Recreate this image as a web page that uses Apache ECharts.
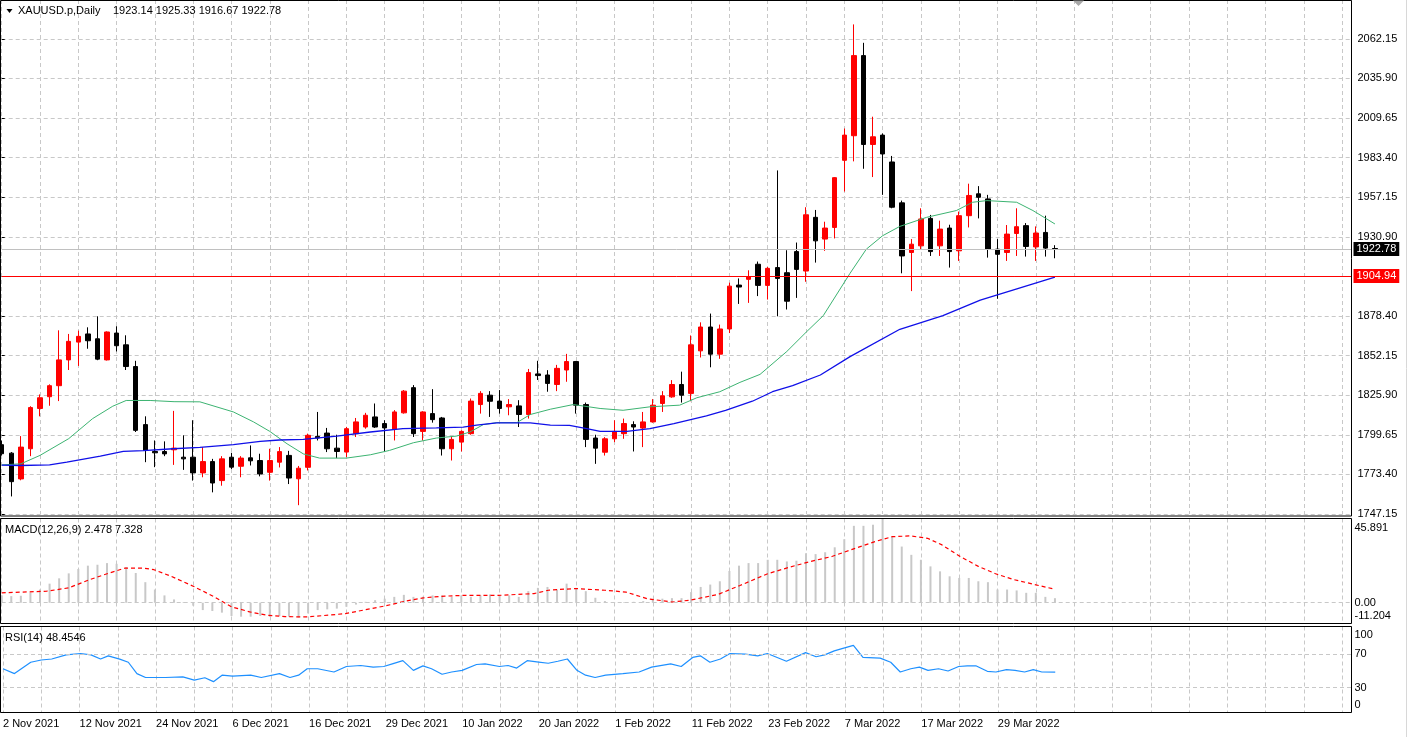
<!DOCTYPE html>
<html><head><meta charset="utf-8">
<script src="https://cdn.jsdelivr.net/npm/echarts@6/dist/echarts.min.js"></script>
<style>html,body{margin:0;padding:0;background:#fff;overflow:hidden}#c{width:1408px;height:737px}</style>
</head><body><div id="c"></div>
<script>
// ---- trading days (categories) ----
const months = [
  ['Nov 2021', [2,3,4,5,8,9,10,11,12,15,16,17,18,19,22,23,24,25,26,29,30]],
  ['Dec 2021', [1,2,3,6,7,8,9,10,13,14,15,16,17,20,21,22,23,27,28,29,30,31]],
  ['Jan 2022', [3,4,5,6,7,10,11,12,13,14,17,18,19,20,21,24,25,26,27,28,31]],
  ['Feb 2022', [1,2,3,4,7,8,9,10,11,14,15,16,17,18,21,22,23,24,25,28]],
  ['Mar 2022', [1,2,3,4,7,8,9,10,11,14,15,16,17,18,21,22,23,24,25,28,29,30,31]],
  ['Apr 2022', [1,4,5,6]]
];
const days = [];
months.forEach(m => m[1].forEach(d => days.push(d + ' ' + m[0])));

// ---- OHLC ----
const opens = [1793.1,1787.5,1770.4,1790.4,1817.1,1824.9,1832.2,1849.3,1861.1,1866.5,
1863.3,1849.3,1867.1,1859.3,1844.9,1806.4,1788.6,1788.6,1789.7,1784.8,
1784.8,1774.4,1781.9,1769.3,1784.8,1778.8,1784.4,1782.6,1774.8,1781.5,
1786.0,1770.5,1778.1,1798.6,1800.8,1790.8,1788.2,1800.4,1804.8,1811.5,
1807.1,1803.3,1814.2,1830.9,1801.9,1813.7,1810.8,1790.4,1794.8,1800.4,
1819.7,1825.9,1822.0,1818.2,1818.8,1813.1,1840.0,1839.3,1833.0,1842.6,
1848.2,1819.7,1797.5,1788.1,1797.0,1800.4,1806.4,1804.1,1808.2,1820.4,
1824.8,1833.0,1827.1,1855.3,1871.1,1853.1,1869.8,1898.9,1902.7,1912.7,
1898.7,1910.5,1907.1,1921.1,1908.2,1943.8,1929.4,1937.1,1981.6,1997.9,
2051.0,1992.1,1998.3,1980.5,1953.4,1920.5,1924.9,1943.1,1924.9,1936.7,
1921.6,1944.9,1959.4,1956.0,1922.7,1920.5,1933.1,1938.3,1924.2,1933.8,1923.14];
const closes = [1787.1,1768.6,1791.5,1817.7,1824.2,1832.2,1849.3,1861.6,1864.9,1862.0,
1849.8,1867.8,1858.7,1844.9,1802.6,1789.3,1787.7,1787.0,1790.8,1783.7,
1774.4,1781.9,1767.7,1783.7,1778.2,1784.2,1782.4,1773.7,1782.6,1788.5,
1771.0,1777.5,1799.3,1797.5,1790.4,1788.6,1803.7,1808.2,1812.6,1804.8,
1804.2,1814.8,1828.6,1800.4,1814.8,1809.7,1790.4,1796.6,1801.9,1822.0,
1827.1,1821.9,1817.1,1819.7,1813.1,1840.9,1838.9,1833.7,1843.7,1848.2,
1819.3,1796.6,1790.8,1797.0,1801.9,1807.1,1804.8,1808.2,1819.3,1825.5,
1833.0,1825.9,1859.3,1871.1,1853.1,1869.8,1898.2,1897.6,1904.2,1898.7,
1910.0,1903.3,1888.2,1909.3,1945.5,1928.2,1936.7,1970.1,1998.3,2051.0,
1992.1,1997.2,1985.8,1950.5,1918.2,1926.0,1942.7,1921.1,1936.0,1921.1,
1944.9,1958.3,1957.1,1922.7,1919.3,1932.7,1937.6,1924.5,1933.4,1923.4,1922.78];
const lows = [1785.9,1758.8,1769.5,1785.5,1811.9,1818.9,1822.0,1842.6,1845.3,1856.7,
1849.1,1848.9,1854.9,1842.6,1801.5,1781.5,1778.2,1785.5,1779.7,1776.4,
1769.3,1771.5,1761.5,1765.9,1777.0,1771.5,1779.3,1772.1,1769.3,1778.0,
1767.0,1753.0,1776.0,1795.9,1788.2,1784.2,1784.8,1798.2,1803.7,1804.2,
1788.2,1795.9,1813.7,1798.2,1795.9,1807.7,1785.9,1782.6,1788.6,1799.7,
1813.7,1811.5,1813.7,1812.6,1804.8,1810.4,1836.0,1828.2,1828.6,1834.8,
1813.7,1791.5,1780.4,1785.9,1794.8,1797.0,1788.6,1791.5,1807.7,1814.8,
1824.2,1821.0,1821.9,1850.9,1844.4,1850.0,1867.1,1886.4,1887.1,1891.6,
1889.3,1878.2,1882.7,1890.4,1901.1,1913.8,1921.6,1929.8,1960.9,1980.9,
1976.0,1970.5,1958.7,1949.8,1906.7,1894.9,1922.7,1918.2,1918.2,1910.5,
1914.9,1937.1,1943.1,1917.1,1889.8,1914.9,1918.2,1917.8,1914.9,1917.8,1916.67];
const highs = [1795.9,1788.2,1798.8,1818.6,1826.4,1833.1,1868.9,1866.5,1868.7,1870.9,
1878.2,1868.2,1871.6,1865.6,1848.7,1811.9,1795.9,1795.3,1815.5,1799.3,
1809.3,1791.5,1783.7,1785.5,1787.7,1785.5,1792.6,1787.1,1790.4,1791.5,
1789.0,1779.0,1800.4,1814.8,1804.2,1799.7,1804.9,1810.8,1814.2,1820.4,
1809.3,1816.0,1829.3,1832.6,1815.3,1829.9,1811.5,1798.8,1802.6,1823.7,
1828.6,1828.6,1829.3,1823.3,1822.6,1843.3,1848.7,1842.5,1846.0,1853.3,
1848.6,1821.0,1799.7,1798.1,1809.3,1810.4,1808.6,1814.8,1823.3,1828.6,
1835.9,1841.5,1865.5,1874.2,1880.0,1872.7,1900.5,1903.3,1908.7,1914.5,
1910.9,1974.9,1922.0,1927.1,1950.5,1948.7,1940.9,1970.5,2002.7,2071.7,
2059.5,2010.5,1999.4,1984.5,1954.9,1929.4,1949.8,1945.4,1941.6,1938.9,
1947.6,1966.1,1964.5,1958.7,1929.4,1938.7,1949.8,1940.0,1937.8,1944.9,1925.33];

// ---- moving averages as [bar, price] ----
const greenMA = [[0,1779.7],[2,1780.4],[4,1786.0],[7,1797.1],[9.5,1810.4],[11.6,1818.6],[13,1822.4],[15.5,1822.4],[18,1821.6],[20.7,1821.5],[24.2,1814.8],[26.3,1808.2],[28,1801.9],[29.8,1793.7],[31.5,1787.0],[33.2,1784.2],[36,1784.2],[38.5,1786.4],[40.5,1789.3],[43,1794.4],[45.4,1797.5],[47.5,1798.8],[48.9,1801.5],[50.3,1806.4],[51.7,1807.7],[53.8,1807.7],[55.2,1813.1],[57.3,1816.6],[59.7,1819.7],[62.5,1817.1],[64.9,1815.9],[67.7,1818.2],[70.8,1819.3],[72.6,1824.2],[75,1828.2],[77.1,1834.4],[79.2,1839.7],[82,1854.9],[84.1,1868.2],[85.8,1878.6],[88.6,1906.7],[90.3,1922.7],[92,1931.6],[93.8,1937.8],[96.6,1943.8],[99.7,1948.3],[101.4,1953.8],[102.9,1954.9],[106,1953.8],[107.7,1948.3],[110,1939.4]];
const blueMA = [[0,1779.5],[2,1779.3],[5,1779.7],[6.8,1781.5],[10.3,1785.5],[12.7,1788.6],[14.8,1789.1],[17.9,1790.4],[20.7,1791.3],[24.2,1793.1],[27,1795.3],[29,1796.2],[31.5,1796.6],[35,1798.8],[38.5,1801.5],[41.9,1803.7],[45.4,1804.2],[48.2,1804.8],[49.6,1806.0],[51.7,1807.5],[55.2,1807.5],[57.3,1806.0],[59.3,1805.9],[61.1,1803.7],[62.5,1801.9],[65.3,1801.9],[67.7,1803.7],[70.2,1807.1],[73.6,1812.2],[75.6,1815.9],[78.4,1821.9],[80.5,1828.2],[82.6,1832.2],[85.5,1839.3],[88.6,1851.5],[93.8,1869.6],[98.3,1878.6],[102.2,1888.9],[105.6,1895.6],[110,1904.2]];

// ---- MACD ----
const macdHist = [4.0,3.6,3.8,5.5,7.2,10.4,13.3,16.0,18.4,20.2,
20.7,21.6,21.2,19.4,16.2,11.2,7.2,4.0,1.8,0.4,
-1.6,-4.0,-4.5,-5.4,-7.2,-7.6,-7.6,-7.2,-7.6,-7.2,
-7.6,-8.1,-5.8,-4.0,-3.6,-3.2,-2.2,-1.0,0.5,1.4,
2.2,3.2,4.3,3.2,3.2,4.0,4.0,3.2,4.0,3.2,
4.0,4.5,4.0,4.0,3.2,6.3,8.1,8.6,7.2,10.4,
8.1,6.3,2.7,0.9,0.2,0.3,0.5,0.9,1.8,2.2,
2.5,2.5,5.8,8.6,9.9,11.7,17.3,20.2,21.6,21.6,
23.4,23.4,22.5,22.9,27.0,26.5,27.5,30.2,34.6,41.9,
41.9,42.5,45.891,36.0,30.6,26.1,23.4,19.8,17.1,14.4,
13.5,13.5,11.7,11.2,7.2,7.2,6.7,5.4,5.4,3.2,2.478];
const macdSignal = [[0,5.4],[4.7,6.3],[7,8.1],[9.2,12.6],[11,15.8],[12.9,18.9],[14.8,18.9],[15.9,18.0],[17.7,14.4],[20,9.0],[22.2,3.2],[24,-2.2],[25.9,-5.0],[27.7,-6.8],[29.6,-7.6],[31.8,-7.7],[34.1,-6.8],[35.9,-5.9],[37.8,-4.0],[40,-1.8],[42.2,0.9],[44.1,2.7],[46.3,3.6],[48.2,4.0],[51.9,4.0],[55.6,5.0],[57.1,6.8],[58.1,7.2],[60,7.7],[63,6.8],[65.2,5.8],[67.4,2.2],[70,0.4],[71.9,1.4],[74.8,4.5],[77.1,9.4],[80,15.8],[82.3,19.4],[84.5,22.5],[86.7,25.2],[88.9,29.2],[91.2,33.3],[93,36.0],[94.9,36.4],[96.7,35.1],[98.2,31.5],[100.1,25.2],[102,19.8],[103.8,15.8],[105.7,12.6],[107.9,9.9],[110,7.328]];

// ---- RSI(14) ----
const rsi = [[0,52.5],[1.2,46.7],[2.9,60.3],[4,63],[5.1,64.2],[6.6,69.2],[8.1,70.8],[9.2,69.2],[10.2,64.2],[11,68],[12.2,64],[13.1,60.3],[14,46.7],[14.9,42],[17,42],[18.8,42.8],[20,38.9],[21.1,41.7],[22,37],[22.9,44.8],[24,43.6],[25.9,44.8],[27,42],[28.9,46.7],[30,42],[30.9,44.8],[31.8,52.5],[32.9,52.5],[34.6,48.6],[35.9,55.2],[37.4,56.4],[38.7,54.5],[39.8,55.2],[40.7,58.4],[41.8,62.2],[42.9,50.6],[43.9,56],[44.8,52.5],[45.9,45.9],[46.9,48.6],[48,50.6],[49.5,57.6],[50.4,58.4],[51.9,55.2],[52.8,56.4],[53.7,53.3],[54.8,62.2],[56,60.5],[57,59.1],[58,61.5],[59,64.2],[60,50.6],[60.9,44.8],[61.9,42],[63,44.8],[64.8,46.7],[66.5,48.6],[67.8,54.5],[69.8,58.4],[70.9,55.2],[72.1,66.1],[72.9,68],[73.9,60.3],[75,64.2],[76,70.8],[77.6,70],[78.9,68],[79.9,70.8],[81.9,61.5],[83.9,71.9],[85,66.9],[85.9,69.2],[86.9,73.9],[87.8,77],[88.9,80.5],[89.9,66.1],[91.7,65.3],[92.8,60.3],[93.8,48.6],[94.9,52.5],[95.8,54.5],[96.7,50.6],[97.8,52.5],[98.8,49.8],[99.9,55.2],[100.8,56],[101.7,56],[102.9,49.4],[103.8,48.6],[104.9,51.4],[105.8,50.6],[106.8,48.6],[107.7,51.4],[108.6,48.6],[110,48.4546]];

// ---- levels & axis ticks ----
const bidPrice = 1922.78;
const hLine = 1904.94;
const priceMin = 1747.15, priceMax = 2087.87, priceStep = 26.25;
const macdTicks = [-11.204, 0, 45.891];
const rsiTicks = [0, 30, 70, 100];

// ---- layout ----
const FONT = '"Liberation Sans", Arial, sans-serif';
const L = 1.7, R = 1408 - 1351.5, BAR = 9.575;
const xMax = (1351.5 - L) / BAR;
const gridCol = '#c8c8c8';
const dash = [4, 3];

const candleData = opens.map((o, i) => [i, o, closes[i], lows[i], highs[i]]);

function xAxisFor(idx, labels) {
  return {
    type: 'value', gridIndex: idx, min: 0, max: xMax, interval: 4,
    axisLine: {show: false}, axisTick: {show: false},
    splitLine: {show: true, lineStyle: {color: gridCol, type: dash, width: 1}},
    axisLabel: labels ? {
      show: true, align: 'left', margin: 5.5, fontSize: 11, color: '#000', fontFamily: FONT,
      showMaxLabel: false, showMinLabel: true,
      formatter: v => { const i = Math.round(v); return (Math.abs(v - i) < 1e-6 && i % 8 === 0 && i < days.length) ? days[i] : ''; }
    } : {show: false}
  };
}

const chart = echarts.init(document.getElementById('c'));
chart.setOption({
  animation: false,
  backgroundColor: '#fff',
  grid: [
    {left: L, right: R, top: 0, height: 514},
    {left: L, right: R, top: 518.5, height: 104.8},
    {left: L, right: R, top: 626.5, height: 86}
  ],
  xAxis: [xAxisFor(0, false), xAxisFor(1, false), xAxisFor(2, true)],
  yAxis: [
    {type: 'value', gridIndex: 0, position: 'right', min: priceMin, max: priceMax, interval: priceStep,
     axisLine: {show: false}, axisTick: {show: true, length: 3, lineStyle: {color: '#000'}},
     splitLine: {show: true, lineStyle: {color: gridCol, type: dash, width: 1}},
     axisLabel: {margin: 6, fontSize: 11, color: '#000', fontFamily: FONT, showMaxLabel: false,
       formatter: v => v.toFixed(2)}},
    {type: 'value', gridIndex: 1, position: 'right', min: macdTicks[0], max: macdTicks[2],
     axisLine: {show: false}, axisTick: {show: false}, splitLine: {show: false},
     axisLabel: {margin: 3, fontSize: 11, color: '#000', fontFamily: FONT, customValues: macdTicks,
       formatter: v => v === macdTicks[2] ? '{t|' + v.toFixed(3) + '}' : (v === macdTicks[0] ? '{b|' + v.toFixed(3) + '}' : v.toFixed(2)),
       rich: {t: {padding: [18, 0, 0, 0], fontSize: 11, color: '#000', fontFamily: FONT},
              b: {padding: [0, 0, 15, 0], fontSize: 11, color: '#000', fontFamily: FONT}}}},
    {type: 'value', gridIndex: 2, position: 'right', min: 0, max: 103.2,
     axisLine: {show: false}, axisTick: {show: false}, splitLine: {show: false},
     axisLabel: {margin: 3, fontSize: 11, color: '#000', fontFamily: FONT, customValues: rsiTicks,
       formatter: v => v === 100 ? '{t|100}' : (v === 0 ? '{b|0}' : String(v)),
       rich: {t: {padding: [12, 0, 0, 0], fontSize: 11, color: '#000', fontFamily: FONT},
              b: {padding: [0, 0, 15, 0], fontSize: 11, color: '#000', fontFamily: FONT}}}}
  ],
  series: [
    {type: 'candlestick', xAxisIndex: 0, yAxisIndex: 0, data: candleData, barWidth: 5,
     itemStyle: {color: '#ff0000', color0: '#000000', borderColor: '#ff0000', borderColor0: '#000000', borderWidth: 1},
     markLine: {silent: true, symbol: ['none', 'none'], animation: false,
       data: [
         {yAxis: bidPrice, lineStyle: {color: '#c0c0c0', type: 'solid', width: 1},
          label: {show: true, position: 'end', distance: 2, formatter: bidPrice.toFixed(2), color: '#fff', backgroundColor: '#000', padding: [2, 3, 1, 3], fontSize: 11, fontFamily: FONT}},
         {yAxis: hLine, lineStyle: {color: '#ff0000', type: 'solid', width: 1},
          label: {show: true, position: 'end', distance: 2, formatter: hLine.toFixed(2), color: '#fff', backgroundColor: '#ff0000', padding: [2, 3, 1, 3], fontSize: 11, fontFamily: FONT}}
       ]}},
    {type: 'line', xAxisIndex: 0, yAxisIndex: 0, data: greenMA, showSymbol: false, symbol: 'none',
     lineStyle: {color: '#3cb371', width: 1}, z: 3},
    {type: 'line', xAxisIndex: 0, yAxisIndex: 0, data: blueMA, showSymbol: false, symbol: 'none',
     lineStyle: {color: '#1010e8', width: 1.3}, z: 3},
    {type: 'bar', xAxisIndex: 1, yAxisIndex: 1, data: macdHist.map((v, i) => [i, v]), barWidth: 2,
     itemStyle: {color: '#c8c8c8'},
     markLine: {silent: true, symbol: ['none', 'none'], label: {show: false},
       lineStyle: {color: gridCol, type: dash, width: 1}, data: [{yAxis: 0}]}},
    {type: 'line', xAxisIndex: 1, yAxisIndex: 1, data: macdSignal, showSymbol: false, symbol: 'none',
     lineStyle: {color: '#ff0000', width: 1.2, type: [4, 3]}},
    {type: 'line', xAxisIndex: 2, yAxisIndex: 2, data: rsi, showSymbol: false, symbol: 'none',
     lineStyle: {color: '#1e90ff', width: 1.2},
     markLine: {silent: true, symbol: ['none', 'none'], label: {show: false},
       lineStyle: {color: gridCol, type: dash, width: 1}, data: [{yAxis: 30}, {yAxis: 70}]}}
  ],
  graphic: [
    {type: 'rect', z: 100, silent: true, shape: {x: 0.5, y: 0.5, width: 1351, height: 515.5}, style: {fill: null, stroke: '#000', lineWidth: 1}},
    {type: 'rect', z: 100, silent: true, shape: {x: 0.5, y: 518.5, width: 1351, height: 105}, style: {fill: null, stroke: '#000', lineWidth: 1}},
    {type: 'rect', z: 100, silent: true, shape: {x: 0.5, y: 626.5, width: 1351, height: 86}, style: {fill: null, stroke: '#000', lineWidth: 1}},
    {type: 'line', z: 100, silent: true, shape: {x1: 1406.5, y1: 0, x2: 1406.5, y2: 737}, style: {stroke: '#d8d8d8', lineWidth: 1}},
    {type: 'polygon', z: 100, silent: true, shape: {points: [[1073, 0.5], [1084, 0.5], [1078.5, 6]]}, style: {fill: '#a8a8a8'}},
    {type: 'polygon', z: 100, silent: true, shape: {points: [[6.5, 9], [12.5, 9], [9.5, 13]]}, style: {fill: '#000'}},
    {type: 'text', z: 100, silent: true, style: {text: 'XAUUSD.p,Daily', x: 18, y: 10.7, verticalAlign: 'middle', textVerticalAlign: 'middle', font: '11px ' + FONT, fill: '#000'}},
    {type: 'text', z: 100, silent: true, style: {text: '1923.14 1925.33 1916.67 1922.78', x: 113, y: 10.7, verticalAlign: 'middle', textVerticalAlign: 'middle', font: '11px ' + FONT, fill: '#000'}},
    {type: 'text', z: 100, silent: true, style: {text: 'MACD(12,26,9) 2.478 7.328', x: 5, y: 530, verticalAlign: 'middle', textVerticalAlign: 'middle', font: '11px ' + FONT, fill: '#000'}},
    {type: 'text', z: 100, silent: true, style: {text: 'RSI(14) 48.4546', x: 5, y: 637.5, verticalAlign: 'middle', textVerticalAlign: 'middle', font: '11px ' + FONT, fill: '#000'}}
  ]
});
</script>
</body></html>
